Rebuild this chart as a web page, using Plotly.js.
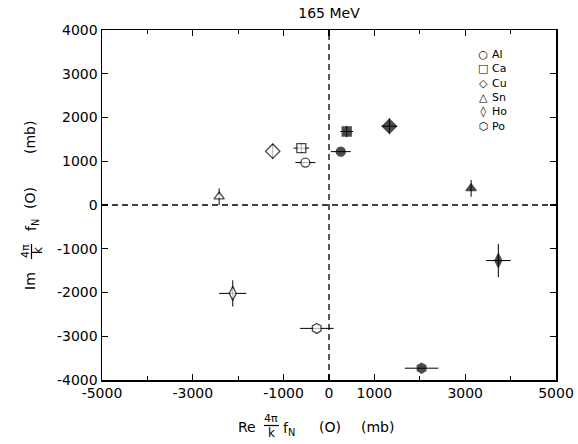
<!DOCTYPE html>
<html>
<head>
<meta charset="utf-8">
<script src="https://cdn.plot.ly/plotly-3.0.1.min.js"></script>
<style>html,body{margin:0;padding:0;background:#fff;}#chart{width:578px;height:444px;}</style>
</head>
<body>
<div id="chart"></div>
<script>
// ---- data ----
const elements = ['Al', 'Ca', 'Cu', 'Sn', 'Ho', 'Po'];

// open symbols
const openRe    = [-520, -610, -1240, -2420, -2120, -270];
const openIm    = [970, 1300, 1230, 190, -2020, -2820];
const openReErr = [220, 170, 0, 0, 300, 370];
const openImErr = [0, 110, 170, 190, 300, 0];

// filled symbols
const filledRe    = [260, 390, 1330, 3130, 3730, 2040];
const filledIm    = [1220, 1680, 1800, 380, -1270, -3730];
const filledReErr = [220, 140, 170, 0, 270, 370];
const filledImErr = [0, 130, 180, 190, 380, 0];

// axis ticks
const xTickVals = [-5000, -3000, -1000, 0, 1000, 3000, 5000];
const xTickText = ['-5000', '-3000', '-1000', '0', '1000', '3000', '5000'];
const xMinorVals = [-4000, -2000, 2000, 4000];
const yTickVals = [4000, 3000, 2000, 1000, 0, -1000, -2000, -3000, -4000];
const yTickText = ['4000', '3000', '2000', '1000', '0', '-1000', '-2000', '-3000', '-4000'];

const legendGlyphs = ['\u25CB', '\u25A1', '\u25C7', '\u25B3', '\u25CA', '\u2B21'];

// ---- styling ----
const symbols = ['circle', 'square', 'diamond', 'triangle-up', 'diamond-tall', 'hexagon'];
const sizes = [9, 9, 11, 9, 10, 10];
const FONT = 'DejaVu Sans';
const W = 578, H = 444;
const L = 102, R = 556, T = 30, B = 380;
const px = p => (p - L) / (R - L);
const py = p => (B - p) / (B - T);

function errBar(arr) {
  return {type: 'data', array: arr, color: 'black', thickness: 1, width: 0, visible: true};
}

const traces = [
  {
    type: 'scatter', mode: 'markers', name: 'open',
    x: openRe, y: openIm, text: elements,
    marker: {symbol: symbols, size: sizes, color: 'white', line: {color: 'black', width: 1.3}},
    error_x: errBar(openReErr), error_y: errBar(openImErr),
    showlegend: false, cliponaxis: false
  },
  {
    type: 'scatter', mode: 'markers', name: 'filled',
    x: filledRe, y: filledIm, text: elements,
    marker: {symbol: symbols, size: sizes, color: 'black', line: {color: 'black', width: 1.3}},
    error_x: errBar(filledReErr), error_y: errBar(filledImErr),
    showlegend: false, cliponaxis: false
  }
];

const ann = [];
function txt(text, x, y, size, angle) {
  ann.push({text: text, xref: 'paper', yref: 'paper', x: px(x), y: py(y),
    xanchor: 'center', yanchor: 'middle', showarrow: false, textangle: angle || 0,
    font: {family: FONT, size: size, color: 'black'}});
}
// x title pieces
txt('Re', 247, 427, 14);
txt('4\u03C0', 271, 418, 11);
txt('k', 271, 433, 12);
txt('f<sub>N</sub>', 289, 429, 14);
txt('(O)', 330, 427, 14);
txt('(mb)', 377, 427, 14);
// y title pieces (rotated)
txt('Im', 30, 281, 14, -90);
txt('4\u03C0', 25, 251, 11, -90);
txt('k', 38, 251, 12, -90);
txt('f<sub>N</sub>', 32, 225, 14, -90);
txt('(O)', 30, 198, 14, -90);
txt('(mb)', 30, 138, 14, -90);
// legend: two multi-line columns (glyphs, labels)
ann.push({text: legendGlyphs.join('<br>'), xref: 'paper', yref: 'paper', x: px(483), y: py(46),
  xanchor: 'center', yanchor: 'top', align: 'center', showarrow: false,
  font: {family: FONT, size: 11, color: 'black'}});
ann.push({text: elements.join('<br>'), xref: 'paper', yref: 'paper', x: px(490), y: py(46),
  xanchor: 'left', yanchor: 'top', align: 'left', showarrow: false,
  font: {family: FONT, size: 11, color: 'black'}});

const shapes = [
  {type: 'line', xref: 'x', yref: 'paper', x0: 0, x1: 0, y0: 0, y1: 1,
   line: {color: 'black', width: 1.3, dash: '6px,4px'}},
  {type: 'line', xref: 'paper', yref: 'y', x0: 0, x1: 1, y0: 0, y1: 0,
   line: {color: 'black', width: 1.3, dash: '6px,4px'}},
  // fraction bars
  {type: 'line', xref: 'paper', yref: 'paper', x0: px(264), x1: px(279), y0: py(425.5), y1: py(425.5),
   line: {color: 'black', width: 1.2}},
  {type: 'line', xref: 'paper', yref: 'paper', x0: px(31.5), x1: px(31.5), y0: py(244), y1: py(259),
   line: {color: 'black', width: 1.2}}
];

const axisCommon = {
  showgrid: false, zeroline: false, showline: true, mirror: 'allticks',
  linecolor: 'black', linewidth: 1.5, ticks: 'inside', tickcolor: 'black',
  tickwidth: 1.2, tickfont: {family: FONT, size: 14, color: 'black'}
};

const layout = {
  width: W, height: H,
  margin: {l: L, r: W - R, t: T, b: H - B, pad: 0},
  paper_bgcolor: 'white', plot_bgcolor: 'white',
  showlegend: false,
  title: {text: '165 MeV', x: px(329), xref: 'paper', xanchor: 'center',
          y: 1 - 13 / H, yref: 'container', yanchor: 'middle',
          font: {family: FONT, size: 14, color: 'black'}},
  xaxis: Object.assign({}, axisCommon, {
    range: [-5000, 5000], tickmode: 'array', tickvals: xTickVals, ticktext: xTickText, ticklen: 6,
    minor: {tickmode: 'array', tickvals: xMinorVals, ticks: 'inside', ticklen: 4, tickcolor: 'black', tickwidth: 1, showgrid: false}
  }),
  yaxis: Object.assign({}, axisCommon, {
    range: [-4000, 4000], tickmode: 'array', tickvals: yTickVals, ticktext: yTickText, ticklen: 6
  }),
  annotations: ann,
  shapes: shapes
};

Plotly.newPlot('chart', traces, layout, {displayModeBar: false, staticPlot: true});
</script>
</body>
</html>
